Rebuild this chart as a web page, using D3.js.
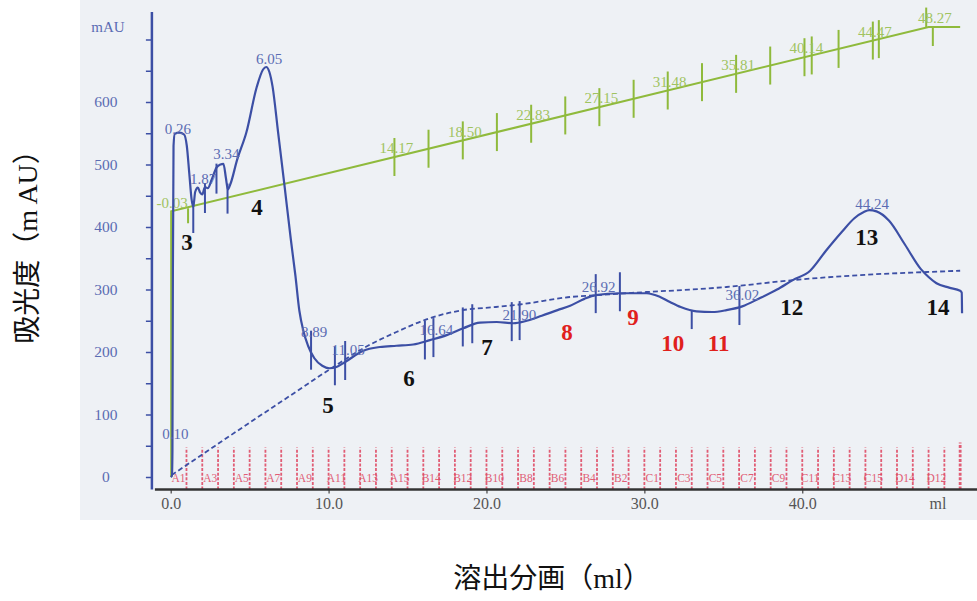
<!DOCTYPE html>
<html>
<head>
<meta charset="utf-8">
<script src="https://cdn.jsdelivr.net/npm/d3@7"></script>
<style>
  html, body { margin: 0; padding: 0; background: #ffffff; }
  svg { display: block; }
</style>
</head>
<body>
<svg id="chart" width="977" height="601"></svg>
<script>
// ---- UV absorbance trace (elution volume ml, absorbance mAU) ----
const uvVolume = [0.00, 0.08, 0.11, 0.14, 0.18, 0.26, 0.55, 0.85, 1.02, 1.18, 1.32, 1.43, 1.55, 1.72, 1.87, 2.00, 2.17, 2.35, 2.60, 2.90, 3.15, 3.34, 3.50, 3.62, 3.80, 4.20, 4.80, 5.45, 5.85, 6.05, 6.25, 6.45, 6.80, 7.20, 7.60, 7.90, 8.15, 8.40, 8.70, 9.10, 9.60, 10.05, 10.50, 11.05, 12.20, 13.25, 14.30, 15.36, 16.42, 17.48, 18.53, 19.59, 20.65, 21.70, 22.55, 23.50, 24.50, 25.30, 26.20, 26.92, 28.45, 30.15, 31.00, 31.62, 32.30, 33.30, 34.30, 35.20, 36.20, 37.30, 38.40, 39.40, 40.50, 41.50, 42.50, 43.30, 43.90, 44.24, 44.70, 45.50, 46.50, 47.50, 48.00, 48.50, 49.30, 50.00, 50.10, 50.12];
const uvAbsorbance = [0, 2, 40, 330, 530, 549, 551, 548, 530, 485, 445, 432, 456, 463, 455, 452, 464, 462, 476, 495, 500, 501, 478, 460, 470, 507, 552, 624, 652, 656, 648, 625, 552, 468, 382, 322, 266, 234, 210, 190, 178, 174, 176, 184, 202, 208, 210, 212, 219, 227, 238, 247, 248, 246, 250, 258, 267, 274, 285, 291, 294, 294, 288, 280, 272, 265, 264, 267, 273, 286, 300, 315, 330, 362, 392, 414, 424, 427, 425, 410, 372, 333, 320, 310, 303, 298, 295, 262];

// ---- dashed reference trace ----
const refVolume = [0.06, 2.70, 5.00, 7.50, 10.30, 12.20, 14.30, 16.40, 18.50, 20.60, 22.10, 25.30, 27.00, 30.15, 33.00, 35.20, 39.40, 43.65, 47.90, 50.00];
const refValue  = [3, 48, 87, 129, 176, 206, 232, 254, 267, 272, 276, 288, 291, 296, 300, 304, 315, 323, 328, 330];

// ---- gradient (%B) ----
const gradVolume  = [0.03, 48.0, 50.0];
const gradPercent = [0, 100, 100];
const gradTicks = [14.17, 16.33, 18.50, 20.66, 22.83, 24.99, 27.15, 29.32, 31.48, 33.65, 35.81, 37.97, 40.14, 40.60, 42.30, 44.47, 44.85];
const gradLabels = ["-0.03", "14.17", "18.50", "22.83", "27.15", "31.48", "35.81", "40.14", "44.47", "48.27"];

// ---- peak marks on the UV trace ----
const peakMarks = [1.43, 2.17, 2.90, 3.60, 8.89, 10.40, 11.05, 16.10, 16.64, 18.50, 19.10, 21.60, 22.10, 26.92, 28.45, 36.02];
const dropMarks = [33.0];
const peakLabels = ["0.10", "0.26", "1.87", "3.34", "6.05", "8.89", "11.05", "16.64", "21.90", "26.92", "36.02", "44.24"];
const peakLabelLevel = [70, 558, 478, 517, 670, 232, 203, 235, 259, 304, 291, 438];

// ---- collected fractions (1 ml each) ----
const fractionEdges = [1, 2, 3, 4, 5, 6, 7, 8, 9, 10, 11, 12, 13, 14, 15, 16, 17, 18, 19, 20, 21, 22, 23, 24, 25, 26, 27, 28, 29, 30, 31, 32, 33, 34, 35, 36, 37, 38, 39, 40, 41, 42, 43, 44, 45, 46, 47, 48, 49, 50];
const fractionNames = ["A1", "A3", "A5", "A7", "A9", "A11", "A13", "A15", "B14", "B12", "B10", "B8", "B6", "B4", "B2", "C1", "C3", "C5", "C7", "C9", "C11", "C13", "C15", "D14", "D12"];
const fractionCenters = [0.5, 2.5, 4.5, 6.5, 8.5, 10.5, 12.5, 14.5, 16.5, 18.5, 20.5, 22.5, 24.5, 26.5, 28.5, 30.5, 32.5, 34.5, 36.5, 38.5, 40.5, 42.5, 44.5, 46.5, 48.5];

// ---- pooled fraction numbers ----
const poolNames  = ["3", "4", "5", "6", "7", "8", "9", "10", "11", "12", "13", "14"];
const poolVolume = [1.03, 5.47, 9.97, 15.09, 20.03, 25.10, 29.28, 31.80, 34.70, 39.33, 44.09, 48.60];
const poolLevel  = [376, 432, 115, 158, 208, 232, 256, 214, 214, 272, 384, 272];
const poolHighlight = [false, false, false, false, false, true, true, true, true, false, false, false];

// ---- axes ----
const yTicks = [0, 50, 100, 150, 200, 250, 300, 350, 400, 450, 500, 550, 600, 650, 700];
const xTicks = [0, 10, 20, 30, 40];

const svg = d3.select("#chart");
const x = d3.scaleLinear().domain([-1, 51.2]).range([154.9, 979.1]);
const y = d3.scaleLinear().domain([-20, 740]).range([489.5, 14.5]);
const yB = d3.scaleLinear().domain([0, 100]).range([y(425), y(720)]);

const serif = "'Liberation Serif', 'Times New Roman', serif";
const blue = "#3c4fa5";
const blueText = "#5b6cb3";
const green = "#8fba3c";
const greenText = "#a0c360";
const red = "#e04e68";

// plot panel
svg.append("rect").attr("x", 80).attr("y", 0).attr("width", 897).attr("height", 520).attr("fill", "#eef1f5");

function interp(xs, ys, v) {
  const i = Math.min(Math.max(d3.bisectRight(xs, v), 1), xs.length - 1);
  const t = (v - xs[i - 1]) / (xs[i] - xs[i - 1]);
  return ys[i - 1] + t * (ys[i] - ys[i - 1]);
}

// fraction collector marks
const frac = svg.append("g");
fractionEdges.forEach((e, i) => {
  const last = i === fractionEdges.length - 1;
  frac.append("line")
    .attr("x1", x(e)).attr("x2", x(e))
    .attr("y1", y(-20)).attr("y2", y(-20) - (last ? 47 : 42))
    .attr("stroke", red).attr("stroke-width", last ? 2.8 : 1.8)
    .attr("stroke-dasharray", "3,1.6").attr("opacity", 0.9);
});
fractionNames.forEach((n, i) => {
  frac.append("text")
    .attr("x", x(fractionCenters[i])).attr("y", 482)
    .attr("text-anchor", "middle")
    .attr("font-family", serif).attr("font-size", 11.5)
    .attr("fill", red).attr("opacity", 0.9)
    .text(n);
});

// y axis
const yAxis = d3.axisLeft(y).tickValues(yTicks).tickSize(6)
  .tickFormat(d => (d % 100 === 0 && d <= 600) ? String(d) : "");
const gy = svg.append("g").attr("transform", `translate(${x(-1) - 3},0)`).call(yAxis);
gy.select(".domain").remove();
gy.selectAll(".tick line").attr("stroke", blue).attr("stroke-width", 1.5);
gy.selectAll(".tick text").attr("x", -46).attr("text-anchor", "middle")
  .attr("font-family", serif).attr("font-size", 15.5).attr("fill", blueText);
svg.append("line").attr("x1", x(-1) - 3).attr("x2", x(-1) - 3)
  .attr("y1", 12).attr("y2", y(-20)).attr("stroke", blue).attr("stroke-width", 2.5);
svg.append("text").attr("x", x(-1) - 47).attr("y", 32).attr("text-anchor", "middle")
  .attr("font-family", serif).attr("font-size", 15).attr("fill", blueText).text("mAU");

// x axis
const xAxis = d3.axisBottom(x).tickValues(xTicks).tickSize(4).tickPadding(4).tickFormat(d3.format(".1f"));
const gx = svg.append("g").attr("transform", `translate(0,${y(-20)})`).call(xAxis);
gx.select(".domain").remove();
gx.selectAll(".tick line").attr("stroke", "#444").attr("stroke-width", 1.2);
gx.selectAll(".tick text").attr("font-family", serif).attr("font-size", 16).attr("fill", "#555");
svg.append("line").attr("x1", x(-1)).attr("x2", 977)
  .attr("y1", y(-20)).attr("y2", y(-20)).attr("stroke", "#333").attr("stroke-width", 2.5);
svg.append("text").attr("x", x(48.6)).attr("y", 509).attr("text-anchor", "middle")
  .attr("font-family", serif).attr("font-size", 16).attr("fill", "#555").text("ml");

// gradient line
const gradPts = gradVolume.map((v, i) => [x(v), yB(gradPercent[i])]);
svg.append("path")
  .attr("d", d3.line()([[x(gradVolume[0]), y(0)], ...gradPts]))
  .attr("fill", "none").attr("stroke", green).attr("stroke-width", 2);
const gradY = v => yB(interp(gradVolume, gradPercent, v));
gradTicks.forEach(v => {
  svg.append("line").attr("x1", x(v)).attr("x2", x(v))
    .attr("y1", gradY(v) - 19).attr("y2", gradY(v) + 19)
    .attr("stroke", green).attr("stroke-width", 2);
});
// short marks at the start and the end of the gradient
svg.append("line").attr("x1", x(1.1)).attr("x2", x(1.1))
  .attr("y1", gradY(1.1) + 1).attr("y2", gradY(1.1) + 16).attr("stroke", green).attr("stroke-width", 2);
svg.append("line").attr("x1", x(47.85)).attr("x2", x(47.85))
  .attr("y1", gradY(47.85) - 20).attr("y2", gradY(47.85)).attr("stroke", green).attr("stroke-width", 2);
svg.append("line").attr("x1", x(48.27)).attr("x2", x(48.27))
  .attr("y1", gradY(48.27)).attr("y2", gradY(48.27) + 19).attr("stroke", green).attr("stroke-width", 2);
gradLabels.forEach(t => {
  const v = +t;
  svg.append("text").attr("x", x(v) + 2).attr("y", gradY(v) - 9).attr("dy", "0.35em")
    .attr("text-anchor", "middle").attr("font-family", serif).attr("font-size", 15)
    .attr("fill", greenText).text(t);
});

// dashed reference trace
svg.append("path")
  .attr("d", d3.line().x((d, i) => x(refVolume[i])).y(d => y(d)).curve(d3.curveMonotoneX)(refValue))
  .attr("fill", "none").attr("stroke", blue).attr("stroke-width", 1.8).attr("stroke-dasharray", "5,3");

// UV trace
svg.append("path")
  .attr("d", d3.line().x((d, i) => x(uvVolume[i])).y(d => y(d)).curve(d3.curveMonotoneX)(uvAbsorbance))
  .attr("fill", "none").attr("stroke", blue).attr("stroke-width", 2.2);

// peak marks
peakMarks.forEach(v => {
  const yc = y(interp(uvVolume, uvAbsorbance, v));
  const early = v < 5;
  svg.append("line").attr("x1", x(v)).attr("x2", x(v))
    .attr("y1", early ? yc - 4 : yc - 21).attr("y2", early ? yc + 26 : yc + 18)
    .attr("stroke", blue).attr("stroke-width", 2);
});
dropMarks.forEach(v => {
  const yc = y(interp(uvVolume, uvAbsorbance, v));
  svg.append("line").attr("x1", x(v)).attr("x2", x(v))
    .attr("y1", yc).attr("y2", yc + 19).attr("stroke", blue).attr("stroke-width", 2);
});
peakLabels.forEach((t, i) => {
  svg.append("text").attr("x", x(+t) + 3).attr("y", y(peakLabelLevel[i])).attr("dy", "0.35em")
    .attr("text-anchor", "middle").attr("font-family", serif).attr("font-size", 15)
    .attr("fill", blueText).text(t);
});

// pooled fraction numbers
poolNames.forEach((n, i) => {
  svg.append("text").attr("x", x(poolVolume[i])).attr("y", y(poolLevel[i])).attr("dy", "0.35em")
    .attr("text-anchor", "middle").attr("font-family", serif).attr("font-size", 23)
    .attr("font-weight", "bold").attr("fill", poolHighlight[i] ? "#e0201c" : "#111").text(n);
});

// axis titles
const cjk = "'Liberation Serif', 'Noto Sans CJK JP', serif";
svg.append("text").attr("transform", "translate(27,240) rotate(-90)")
  .attr("text-anchor", "middle").attr("dy", "0.35em")
  .attr("font-family", cjk).attr("font-size", 28).attr("fill", "#111")
  .text("吸光度（m AU）");
svg.append("text").attr("x", 552).attr("y", 578).attr("dy", "0.35em")
  .attr("text-anchor", "middle").attr("font-family", cjk).attr("font-size", 28).attr("fill", "#111")
  .text("溶出分画（ml）");
</script>
</body>
</html>
